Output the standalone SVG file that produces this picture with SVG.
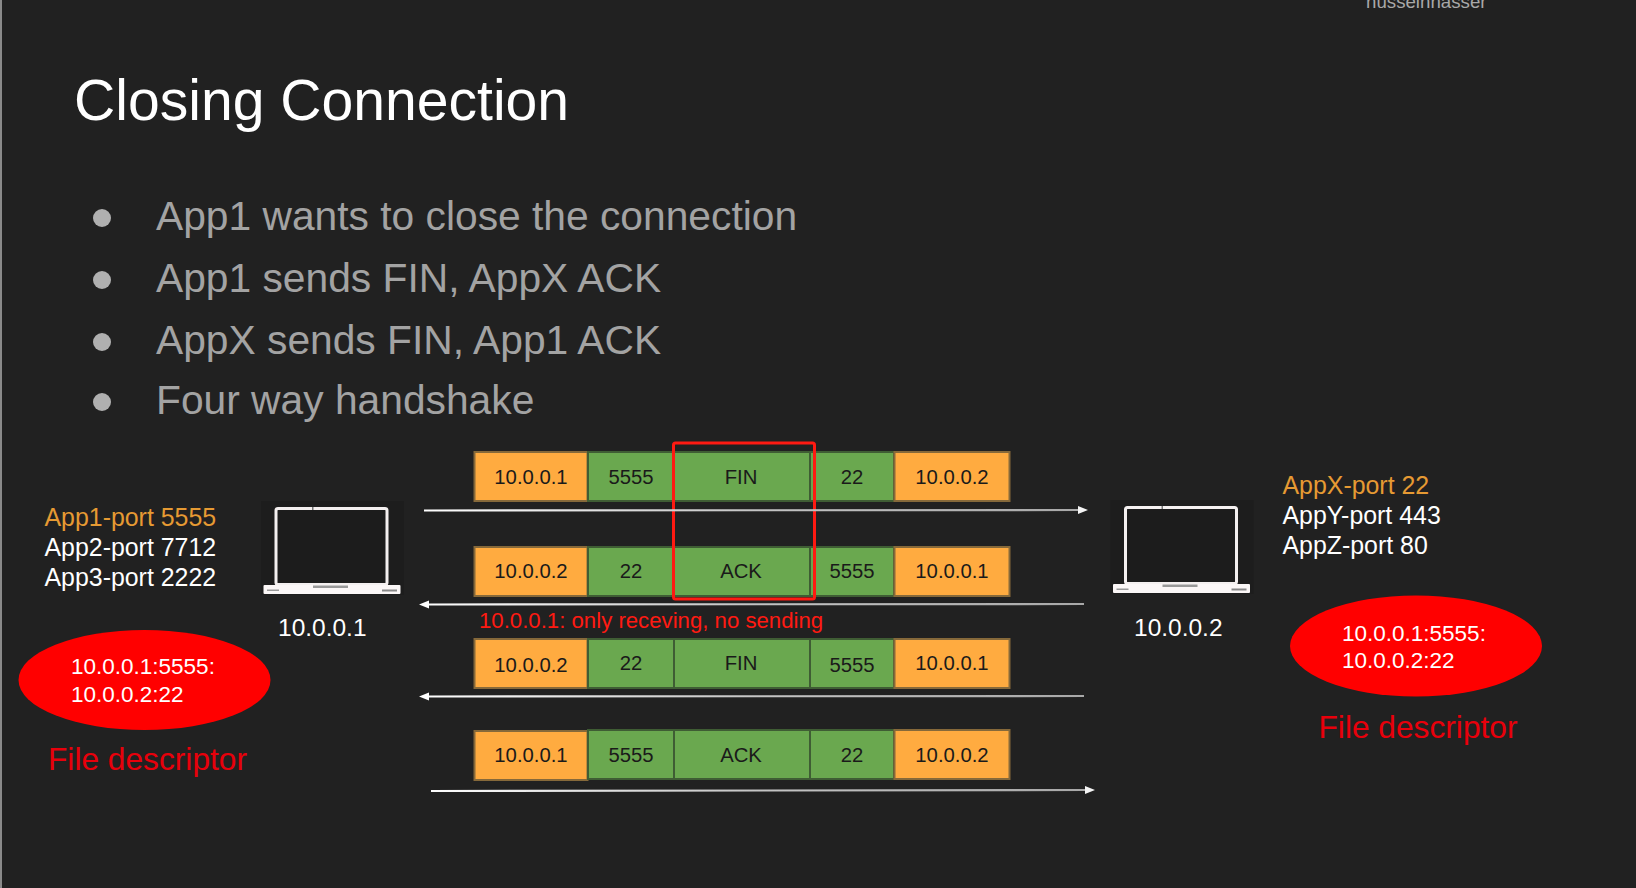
<svg xmlns="http://www.w3.org/2000/svg" width="1636" height="888" viewBox="0 0 1636 888">
<defs>
<linearGradient id="fade" gradientUnits="userSpaceOnUse" x1="420" y1="0" x2="1090" y2="0"><stop offset="0" stop-color="#ffffff"/><stop offset="0.5" stop-color="#c4c4c4"/><stop offset="1" stop-color="#a8a8a8"/></linearGradient>
<marker id="headEnd" markerUnits="userSpaceOnUse" markerWidth="12" markerHeight="10" refX="1" refY="5" orient="auto"><path d="M0 1 L10 5 L0 9 Z" fill="#f4f4f4"/></marker>
<marker id="headStart" markerUnits="userSpaceOnUse" markerWidth="12" markerHeight="10" refX="11" refY="5" orient="auto"><path d="M11 1 L1 5 L11 9 Z" fill="#ffffff"/></marker>
<g id="laptop">
<rect x="0" y="0" width="143" height="94" fill="#1d1d1d"/>
<rect x="15" y="7.500" width="111" height="76" rx="2" fill="#1c1c1c" stroke="#f4f0f0" stroke-width="3"/>
<rect x="51" y="6" width="1.500" height="3" fill="#777"/>
<rect x="2.500" y="84" width="137" height="9" rx="1" fill="#fbf7f7"/>
<rect x="52" y="84.500" width="35" height="2.500" fill="#999"/>
<rect x="6" y="88.500" width="12" height="1.500" fill="#999"/>
<rect x="121" y="88.500" width="15" height="2" fill="#888"/>
</g>
</defs>
<style>
text{font-family:"Liberation Sans",Arial,sans-serif}
.o{fill:#ffab40;stroke:#86693a;stroke-width:2}
.g{fill:#6aa84f;stroke:#3f5d34;stroke-width:2}
.b{font-size:20.300px;fill:#1a1a1a;text-anchor:middle}
.bul{font-size:40.750px;fill:#a3a3a3}
.dot{fill:#b0b0b0}
.app{font-size:24.900px;fill:#ffffff}
.first{fill:#e69a33}
.ip{font-size:24.500px;fill:#ffffff}
.fd{fill:#ff0000}
.fdt{font-size:22.500px;fill:#ffffff}
.fdl{font-size:31.700px;fill:#e8000b}
.arrow{fill:none;stroke:url(#fade);stroke-width:2.200}
</style>
<rect width="1636" height="888" fill="#212121"/>
<rect x="0" y="0" width="2" height="888" fill="#8a8a8a"/>
<text x="1366" y="8" font-size="18.700" fill="#a8a8a8">husseinnasser</text>
<text id="title" x="74" y="120" font-size="57.100" fill="#ffffff">Closing Connection</text>
<g id="bullets">
<ellipse class="dot" cx="102" cy="218" rx="9" ry="9"/><text class="bul" x="156" y="230">App1 wants to close the connection</text>
<ellipse class="dot" cx="102" cy="280" rx="9" ry="9"/><text class="bul" x="156" y="292">App1 sends FIN, AppX ACK</text>
<ellipse class="dot" cx="102" cy="342" rx="9" ry="9"/><text class="bul" x="156" y="354">AppX sends FIN, App1 ACK</text>
<ellipse class="dot" cx="102" cy="402" rx="9" ry="9"/><text class="bul" x="156" y="414">Four way handshake</text>
</g>
<g id="host1">
<use href="#laptop" x="261" y="501"/>
<text class="ip" x="278" y="636">10.0.0.1</text>
</g>
<g id="host1-ports">
<text class="app first" x="44.500" y="526">App1-port 5555</text>
<text class="app" x="44.500" y="556">App2-port 7712</text>
<text class="app" x="44.500" y="586">App3-port 2222</text>
</g>
<g id="fd1">
<ellipse class="fd" cx="144.500" cy="680" rx="126" ry="50"/>
<text class="fdt" x="71" y="674">10.0.0.1:5555:</text>
<text class="fdt" x="71" y="702">10.0.0.2:22</text>
<text class="fdl" x="48" y="770">File descriptor</text>
</g>
<g id="host2">
<use href="#laptop" x="1110.500" y="500"/>
<text class="ip" x="1134" y="636">10.0.0.2</text>
</g>
<g id="host2-ports">
<text class="app first" x="1282.500" y="494">AppX-port 22</text>
<text class="app" x="1282.500" y="524">AppY-port 443</text>
<text class="app" x="1282.500" y="554">AppZ-port 80</text>
</g>
<g id="fd2">
<ellipse class="fd" cx="1416" cy="646" rx="126" ry="50.500"/>
<text class="fdt" x="1342" y="641">10.0.0.1:5555:</text>
<text class="fdt" x="1342" y="668">10.0.0.2:22</text>
<text class="fdl" x="1318.500" y="738">File descriptor</text>
</g>
<g id="packet1">
<rect class="o" x="474.500" y="452" width="113" height="49"/><rect class="g" x="588" y="452" width="86" height="49"/><rect class="g" x="674" y="452" width="136" height="49"/><rect class="g" x="810" y="452" width="84" height="49"/><rect class="o" x="894.500" y="452" width="115" height="49"/>
<text class="b" x="531" y="484">10.0.0.1</text><text class="b" x="631" y="484">5555</text><text class="b" x="741" y="484">FIN</text><text class="b" x="852" y="484">22</text><text class="b" x="952" y="484">10.0.0.2</text>
</g>
<g id="packet2">
<rect class="o" x="474.500" y="547" width="113" height="49"/><rect class="g" x="588" y="547" width="86" height="49"/><rect class="g" x="674" y="547" width="136" height="49"/><rect class="g" x="810" y="547" width="84" height="49"/><rect class="o" x="894.500" y="547" width="115" height="49"/>
<text class="b" x="531" y="578">10.0.0.2</text><text class="b" x="631" y="578">22</text><text class="b" x="741" y="578">ACK</text><text class="b" x="852" y="578">5555</text><text class="b" x="952" y="578">10.0.0.1</text>
</g>
<g id="packet3">
<rect class="o" x="474.500" y="639" width="113" height="49"/><rect class="g" x="588" y="639" width="86" height="49"/><rect class="g" x="674" y="639" width="136" height="49"/><rect class="g" x="810" y="639" width="84" height="49"/><rect class="o" x="894.500" y="639" width="115" height="49"/>
<text class="b" x="531" y="672">10.0.0.2</text><text class="b" x="631" y="670">22</text><text class="b" x="741" y="670">FIN</text><text class="b" x="852" y="672">5555</text><text class="b" x="952" y="670">10.0.0.1</text>
</g>
<g id="packet4">
<rect class="o" x="474.500" y="731" width="113" height="49"/><rect class="g" x="588" y="730" width="86" height="49"/><rect class="g" x="674" y="730" width="136" height="49"/><rect class="g" x="810" y="730" width="84" height="49"/><rect class="o" x="894.500" y="730" width="115" height="49"/>
<text class="b" x="531" y="762">10.0.0.1</text><text class="b" x="631" y="762">5555</text><text class="b" x="741" y="762">ACK</text><text class="b" x="852" y="762">22</text><text class="b" x="952" y="762">10.0.0.2</text>
</g>
<g id="highlight"><rect x="673.500" y="443" width="141" height="156" rx="2" fill="none" stroke="#ff1a12" stroke-width="3"/></g>
<text id="note" x="479" y="628" font-size="22.200" fill="#ff1a12">10.0.0.1: only receving, no sending</text>
<g id="connectors">
<line class="arrow" x1="424" y1="510.500" x2="1079" y2="510" marker-end="url(#headEnd)"/>
<line class="arrow" x1="429" y1="604.500" x2="1084" y2="604" marker-start="url(#headStart)"/>
<line class="arrow" x1="429" y1="696.500" x2="1084" y2="696" marker-start="url(#headStart)"/>
<line class="arrow" x1="431" y1="791" x2="1086" y2="790" marker-end="url(#headEnd)"/>
</g>
</svg>
